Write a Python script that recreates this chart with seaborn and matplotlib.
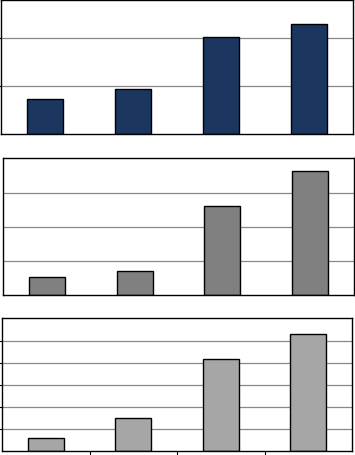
import matplotlib
matplotlib.use("Agg")
import matplotlib.pyplot as plt
import seaborn as sns
import pandas as pd

categories = ["A", "B", "C", "D"]
values_top = [0.73, 0.94, 2.03, 2.30]
values_mid = [0.53, 0.71, 2.63, 3.64]
values_bot = [0.60, 1.51, 4.18, 5.32]

sns.set_theme(style="white")
plt.rcParams['font.family'] = ['DejaVu Sans']

W, H = 355, 456
fig = plt.figure(figsize=(W / 100, H / 100), dpi=100)
fig.patch.set_facecolor("white")


def add_ax(left, top, right, bottom):
    return fig.add_axes([left / W, 1 - bottom / H, (right - left) / W, (bottom - top) / H])


panels = [
    dict(box=(1, 1, 353, 135), vals=values_top, color="#1B365F", ymax=2.79, grid=[1, 2], lt=True, bt=False),
    dict(box=(3, 159.3, 354, 296), vals=values_mid, color="#808080", ymax=4.02, grid=[1, 2, 3], lt=False, bt=False),
    dict(box=(2, 319.3, 352, 452.3), vals=values_bot, color="#A6A6A6", ymax=6.05, grid=[1, 2, 3, 4, 5], lt=True, bt=True),
]

for p in panels:
    ax = add_ax(*p["box"])
    df = pd.DataFrame({"cat": categories, "val": p["vals"]})
    sns.barplot(data=df, x="cat", y="val", ax=ax, color=p["color"], width=0.41,
                edgecolor="black", linewidth=1.0, saturation=1)
    ax.set_xlim(-0.5, 3.5)
    ax.set_ylim(0, p["ymax"])
    for g in p["grid"]:
        ax.axhline(g, color="#888888", lw=0.9, zorder=0)
    ax.set_axisbelow(True)
    ax.set_xlabel("")
    ax.set_ylabel("")
    ax.set_yticks(p["grid"])
    ax.set_yticklabels([])
    if p["bt"]:
        ax.set_xticks([0.5, 1.5, 2.5])
    else:
        ax.set_xticks([])
    ax.set_xticklabels([])
    ax.tick_params(axis="y", left=p["lt"], length=3 if p["lt"] else 0, width=0.8, color="black", direction="out")
    ax.tick_params(axis="x", bottom=p["bt"], length=3, width=0.8, color="black", direction="out")
    for s in ax.spines.values():
        s.set_visible(True)
        s.set_color("black")
        s.set_linewidth(1.0)
    ax.set_facecolor("white")

fig.savefig("out.png", dpi=100, facecolor="white")
